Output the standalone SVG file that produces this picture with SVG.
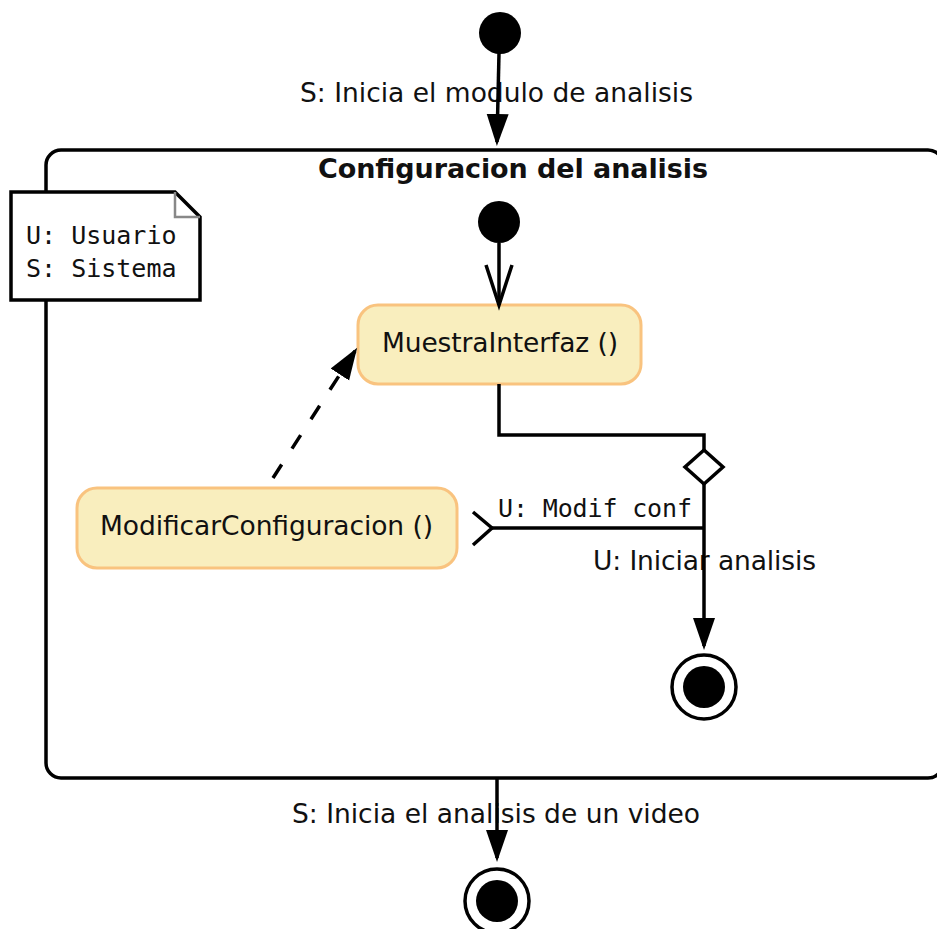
<svg xmlns="http://www.w3.org/2000/svg" width="937" height="929" viewBox="0 0 937 929">
  <style>
    .lbl { font-family: "DejaVu Sans", "Liberation Sans", sans-serif; font-size: 26.5px; fill: #111; }
    .mono { font-family: "DejaVu Sans Mono", "Liberation Mono", monospace; font-size: 25px; fill: #111; }
    .title { font-family: "DejaVu Sans", "Liberation Sans", sans-serif; font-size: 27px; font-weight: bold; fill: #111; }
    .action rect { fill: #f9eebe; stroke: #f9c37f; stroke-width: 3; }
    .edge { fill: none; stroke: #000; stroke-width: 3.5; }
    .dashed { stroke-dasharray: 16 19; }
    .start { fill: #000; }
    .endRing { fill: #fff; stroke: #000; stroke-width: 3.5; }
  </style>
  <defs>
    <marker id="arrowFill" markerUnits="userSpaceOnUse" markerWidth="34" markerHeight="24" refX="28" refY="11" orient="auto">
      <path d="M0,0 L32,11 L0,22 z" fill="#000"/>
    </marker>
    <marker id="arrowOpen" markerUnits="userSpaceOnUse" markerWidth="44" markerHeight="30" refX="40" refY="13" orient="auto" overflow="visible">
      <path d="M0,0 L40,13 L0,26" fill="none" stroke="#000" stroke-width="3.5"/>
    </marker>
  </defs>

  <rect width="937" height="929" fill="#fff"/>

  <!-- composite state -->
  <g id="configuracion">
    <rect x="46" y="150" width="897" height="628" rx="15" fill="#fff" stroke="#000" stroke-width="3.5"/>
    <text class="title" x="513" y="178" text-anchor="middle" textLength="390">Configuracion del analisis</text>
  </g>

  <!-- legend note -->
  <g id="nota">
    <path d="M11,192 L175,192 L200,217 L200,300 L11,300 z" fill="#fff" stroke="#000" stroke-width="3.5"/>
    <path d="M175,192 L175,217 L200,217" fill="none" stroke="#888" stroke-width="2.5"/>
    <text class="mono" x="26" y="244">U: Usuario</text>
    <text class="mono" x="26" y="277">S: Sistema</text>
  </g>

  <!-- transition labels (edges are drawn over them) -->
  <g id="etiquetas">
    <text class="lbl" x="300" y="102" textLength="393">S: Inicia el modulo de analisis</text>
    <text class="mono" x="498" y="517" textLength="194">U: Modif conf</text>
    <text class="lbl" x="593" y="570" textLength="223">U: Iniciar analisis</text>
    <text class="lbl" x="292" y="823" textLength="408">S: Inicia el analisis de un video</text>
  </g>

  <g id="inicio">
    <circle class="start" cx="500" cy="33" r="21"/>
  </g>
  <g id="inicio-interno">
    <circle class="start" cx="499" cy="222" r="21"/>
  </g>

  <g id="muestra-interfaz" class="action">
    <rect x="358" y="305" width="283" height="79" rx="20"/>
    <text class="lbl" x="382" y="352" textLength="236">MuestraInterfaz ()</text>
  </g>

  <g id="modificar-configuracion" class="action">
    <rect x="77" y="488" width="380" height="80" rx="20"/>
    <text class="lbl" x="100" y="535" textLength="333">ModificarConfiguracion ()</text>
  </g>

  <g id="decision">
    <path d="M704,450 L723,467 L704,484 L685,467 z" fill="#fff" stroke="#000" stroke-width="3.5"/>
  </g>

  <g id="fin-interno">
    <circle class="endRing" cx="704" cy="687" r="32"/>
    <circle class="start" cx="704" cy="687" r="21"/>
  </g>

  <g id="fin">
    <circle class="endRing" cx="497" cy="901" r="32"/>
    <circle class="start" cx="497" cy="901" r="21"/>
  </g>

  <!-- connectors -->
  <g id="conectores">
    <path class="edge" d="M499,53 L497,142" marker-end="url(#arrowFill)"/>
    <path class="edge" d="M499,243 L499,305" marker-end="url(#arrowOpen)"/>
    <path class="edge" d="M499,384 L499,435 L704,435 L704,450"/>
    <path class="edge" d="M704,484 L704,646" marker-end="url(#arrowFill)"/>
    <path class="edge" d="M704,528 L492,528"/>
    <path class="edge" d="M473,512 L492,528 L473,545"/>
    <path class="edge dashed" d="M273,478 L355,351" marker-end="url(#arrowFill)"/>
    <path class="edge" d="M497,778 L497,858" marker-end="url(#arrowFill)"/>
  </g>
</svg>
